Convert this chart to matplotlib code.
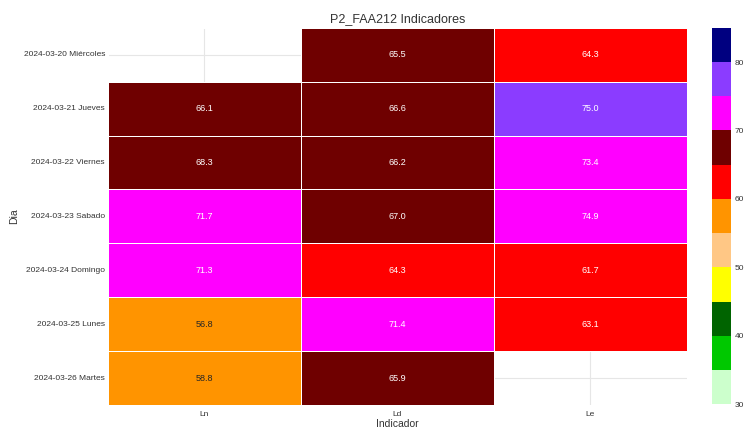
import numpy as np
import pandas as pd
import matplotlib
matplotlib.use("Agg")
import matplotlib.pyplot as plt
import seaborn as sns
from matplotlib.colors import ListedColormap

dias = ["2024-03-20 Miércoles", "2024-03-21 Jueves", "2024-03-22 Viernes",
        "2024-03-23 Sabado", "2024-03-24 Domingo", "2024-03-25 Lunes",
        "2024-03-26 Martes"]
indicadores = ["Ln", "Ld", "Le"]
ln = [np.nan, 66.1, 68.3, 71.7, 71.3, 56.8, 58.8]
ld = [65.5, 66.6, 66.2, 67.0, 64.3, 71.4, 65.9]
le = [64.3, 75.0, 73.4, 74.9, 61.7, 63.1, np.nan]
colores = ["#ccffcc", "#00c800", "#006400", "#ffff00", "#ffc785", "#ff9400",
           "#ff0000", "#6f0000", "#ff00ff", "#8b3cff", "#000080"]
vmin, vmax = 30, 85
cbar_ticks = [30, 40, 50, 60, 70, 80]

sns.set_theme(style="whitegrid")
plt.rcParams['font.family'] = ['Liberation Sans', 'DejaVu Sans']

df = pd.DataFrame({"Ln": ln, "Ld": ld, "Le": le}, index=dias)[indicadores]

fig = plt.figure(figsize=(7.48, 4.29), dpi=100)
ax = fig.add_axes([0.144, 0.056, 0.774, 0.879])
cax = fig.add_axes([0.952, 0.058, 0.025, 0.877])
cmap = ListedColormap(colores)
sns.heatmap(df, ax=ax, cbar_ax=cax, cmap=cmap, vmin=vmin, vmax=vmax,
            annot=True, fmt=".1f", annot_kws={"fontsize": 6.5},
            linewidths=0.6, linecolor="white",
            cbar_kws={"ticks": cbar_ticks})
ax.set_title("P2_FAA212 Indicadores", fontsize=9, color="#333333", pad=4)
ax.set_xlabel("Indicador", fontsize=7.5, color="#333333", labelpad=1)
ax.set_ylabel("Dia", fontsize=7.5, color="#333333", labelpad=3)
ax.tick_params(axis="both", labelsize=6.0, colors="#333333", length=0, pad=2)
ax.tick_params(axis="x", pad=4)
ax.set_yticklabels(dias, rotation=0)
ax.set_axisbelow(True)
ax.grid(True, color="#e6e6e6", linewidth=0.8)
cax.tick_params(labelsize=6.0, colors="#333333", length=0, pad=3)
fig.savefig("out.png", dpi=100)
